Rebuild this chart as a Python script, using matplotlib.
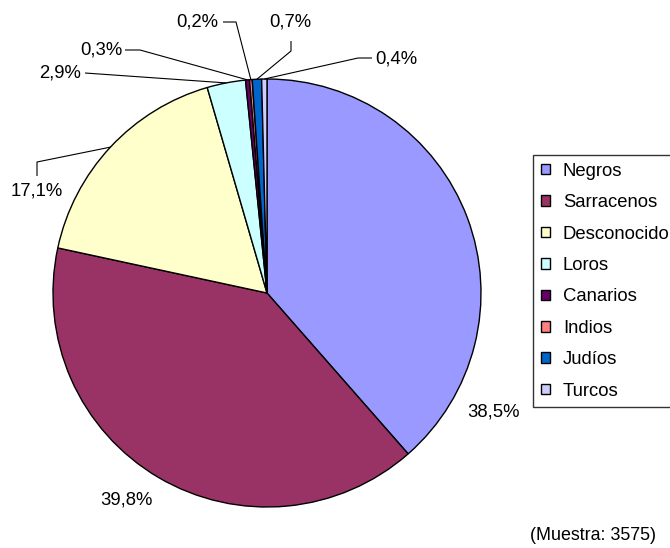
import matplotlib
matplotlib.use("Agg")
import matplotlib.pyplot as plt
import numpy as np

plt.rcParams['font.family'] = ['Liberation Sans', 'DejaVu Sans']

categories = ["Negros", "Sarracenos", "Desconocido", "Loros", "Canarios", "Indios", "Judíos", "Turcos"]
values = [38.5, 39.8, 17.1, 2.9, 0.3, 0.2, 0.7, 0.4]
colors = ["#9999FF", "#993366", "#FFFFCC", "#CCFFFF", "#660066", "#FF8080", "#0066CC", "#CCCCFF"]
sample_note = "(Muestra: 3575)"

# label positions (pixels) and leader elbow points
label_pos = [(493, 412), (126, 500), (37, 191), (60, 73), (101, 50), (197, 22), (290, 22), (396, 59)]
leader_pts = [None, None,
              [(37, 176), (37, 162)],
              [(85, 73)],
              [(125, 50), (140, 50)],
              [(223, 22), (236, 22)],
              [(291, 41), (291, 51)],
              [(372, 58), (358, 58)]]

W, H = 670, 548
fig = plt.figure(figsize=(W / 100, H / 100), dpi=100)
ax = fig.add_axes([0, 0, 1, 1])
cx, cy, R = 267, 293, 214
FS = 13.3

wedges, _ = ax.pie(values, colors=colors, startangle=270, counterclock=True,
                   center=(cx, cy), radius=R,
                   wedgeprops=dict(edgecolor="black", linewidth=1.0), frame=True)

for w, v, pos, pts in zip(wedges, values, label_pos, leader_pts):
    txt = f"{v:.1f}".replace(".", ",") + "%"
    ax.text(pos[0], pos[1], txt, ha="center", va="center", fontsize=FS, color="black")
    if pts is not None:
        mid = np.deg2rad((w.theta1 + w.theta2) / 2)
        ax_pt = (cx + R * np.cos(mid), cy + R * np.sin(mid))
        xs = [p[0] for p in pts] + [ax_pt[0]]
        ys = [p[1] for p in pts] + [ax_pt[1]]
        ax.plot(xs, ys, color="black", lw=0.8, solid_capstyle="butt")

ax.text(593, 536, sample_note, ha="center", va="center", fontsize=FS * 0.97)

ax.set_xlim(0, W)
ax.set_ylim(H, 0)
ax.set_aspect("equal")
ax.axis("off")

leg = ax.legend(wedges, categories, loc="upper left",
                bbox_to_anchor=(533 / W, 1 - 155 / H), bbox_transform=fig.transFigure,
                fontsize=FS, frameon=True, fancybox=False, shadow=False,
                handlelength=0.5, handleheight=0.5, handletextpad=0.7,
                labelspacing=0.78, borderpad=0.42, borderaxespad=0)
leg.get_frame().set_edgecolor("black")
leg.get_frame().set_linewidth(1.0)
for h in leg.legend_handles:
    h.set_edgecolor("black")
    h.set_linewidth(1.0)

fig.savefig("out.png", dpi=100)
